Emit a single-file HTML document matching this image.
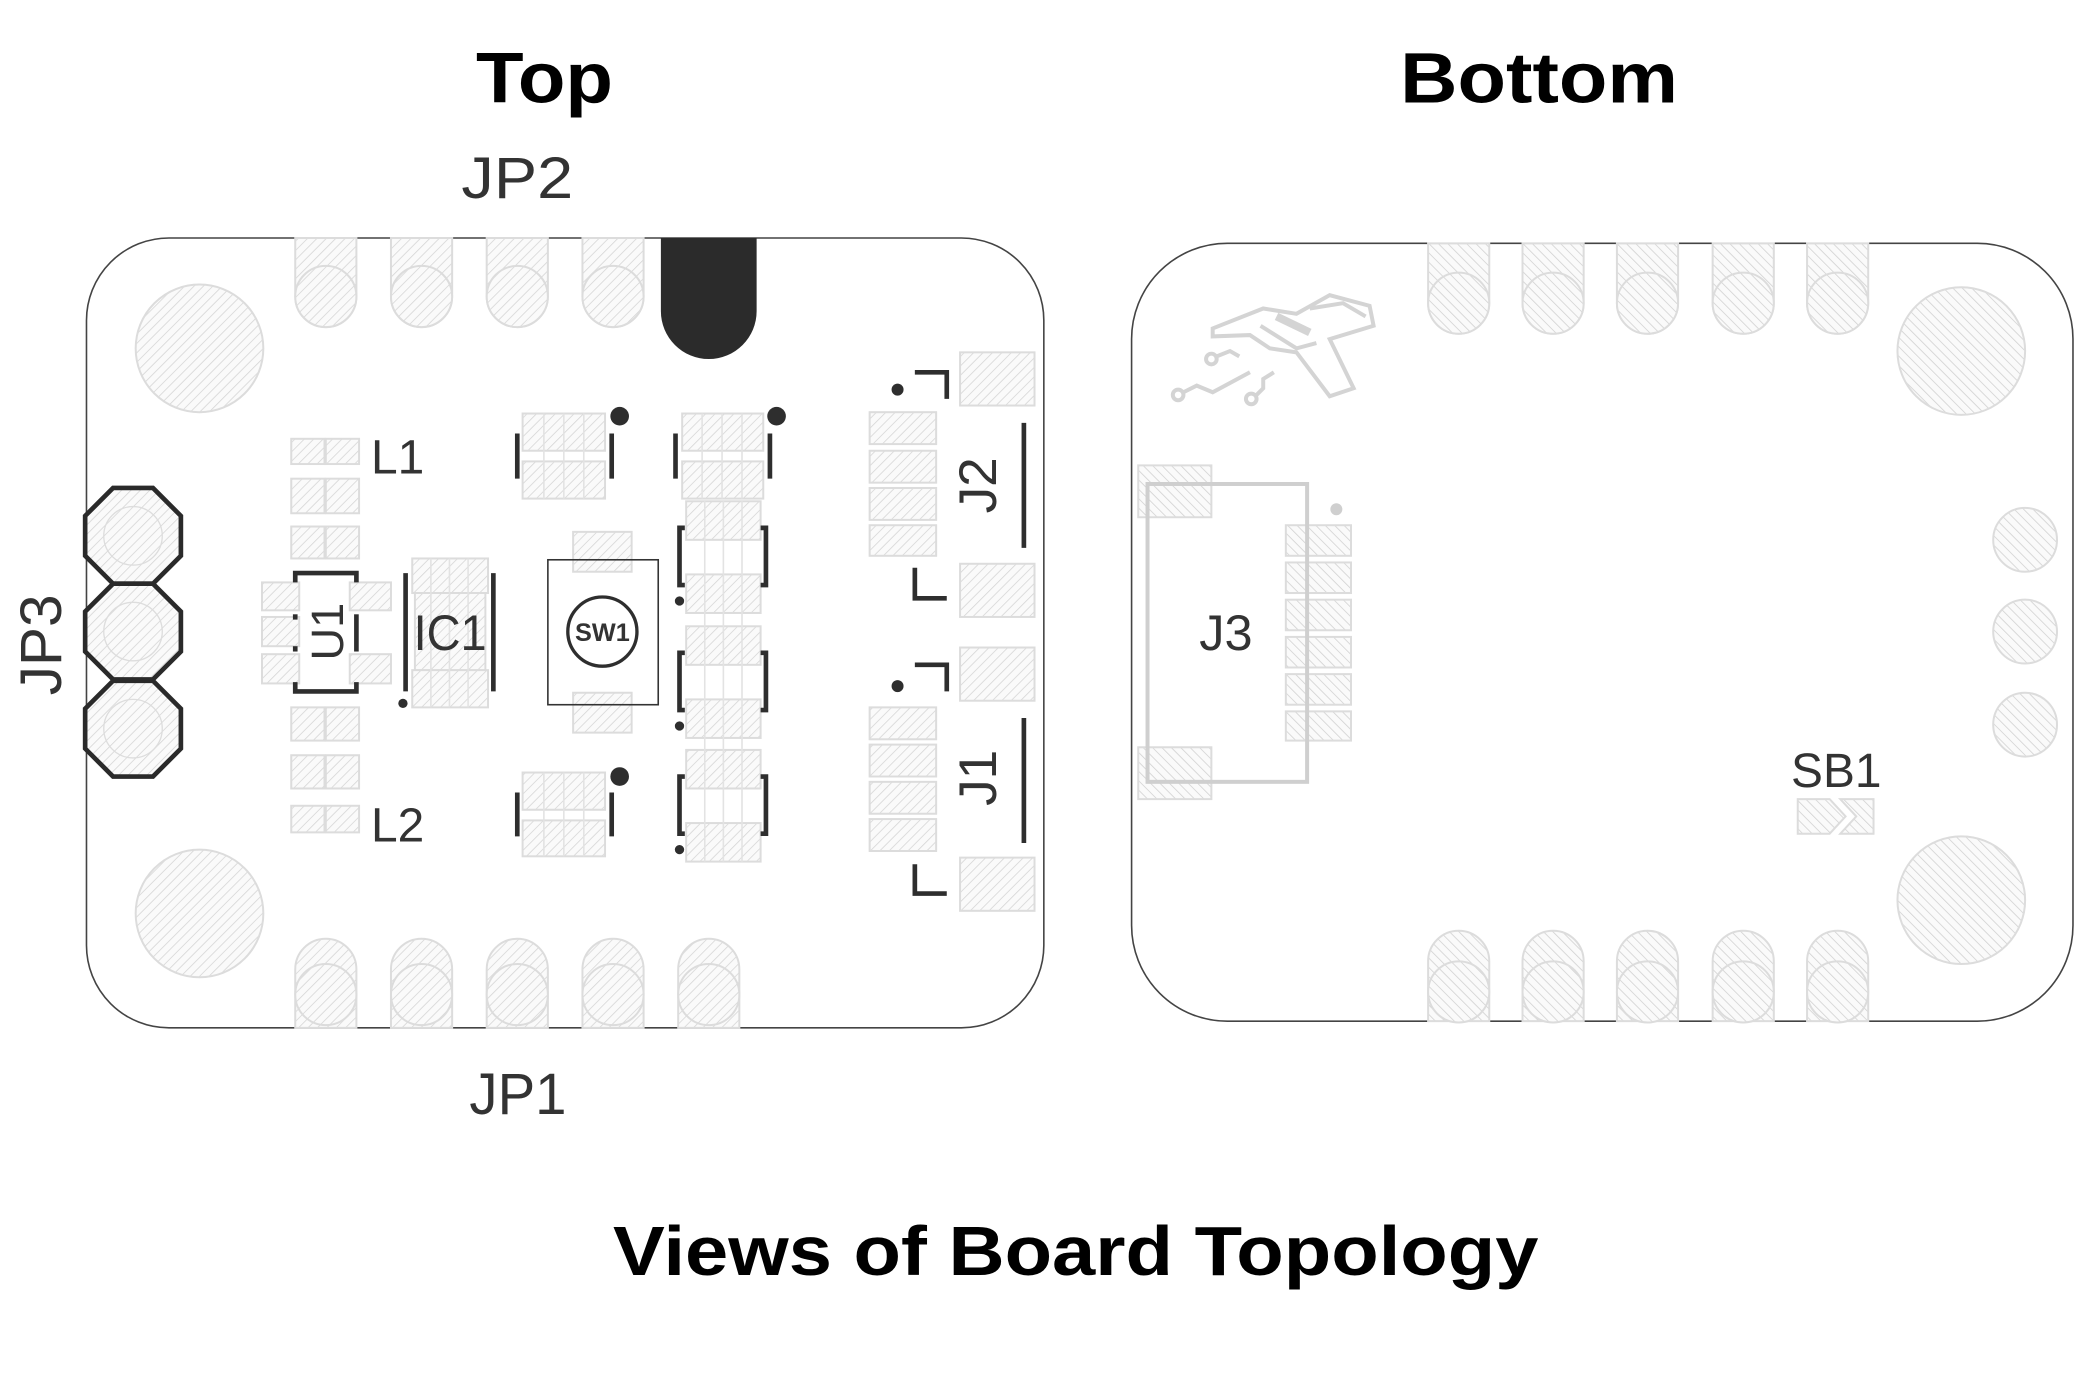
<!DOCTYPE html>
<html><head><meta charset="utf-8"><style>
html,body{margin:0;padding:0;background:#fff;}
svg{display:block;}
text{font-family:"Liberation Sans",sans-serif;}
</style></head><body>
<svg width="2085" height="1396" viewBox="0 0 1568 1049.9" xmlns="http://www.w3.org/2000/svg">
<defs>
<pattern id="h" patternUnits="userSpaceOnUse" width="5" height="5" patternTransform="rotate(45)"><rect width="5" height="5" fill="#fafafa"/><line x1="0" y1="0" x2="0" y2="5" stroke="#d6d6d6" stroke-width="1.2"/></pattern>
<pattern id="h2" patternUnits="userSpaceOnUse" width="5" height="5" patternTransform="rotate(-45)"><rect width="5" height="5" fill="#fafafa"/><line x1="0" y1="0" x2="0" y2="5" stroke="#d2d2d2" stroke-width="1.2"/></pattern>
</defs>
<rect width="1568" height="1050" fill="#fff"/>
<text x="358" y="77" font-size="54" font-weight="bold" textLength="103" lengthAdjust="spacingAndGlyphs">Top</text>
<text x="1053" y="77" font-size="54" font-weight="bold" textLength="209" lengthAdjust="spacingAndGlyphs">Bottom</text>
<text x="461" y="959" font-size="52" font-weight="bold" textLength="696" lengthAdjust="spacingAndGlyphs">Views of Board Topology</text>

<rect x="65" y="179" width="720" height="594" rx="62" fill="#fff" stroke="#444" stroke-width="1.2"/>
<g fill="url(#h)" stroke="#dcdcdc" stroke-width="1.5">
<circle cx="150" cy="262" r="48"/><circle cx="150" cy="687" r="48"/>
<path d="M222 179 h46 v44 a23 23 0 0 1 -46 0z"/><circle cx="245" cy="223" r="23"/>
<path d="M294 179 h46 v44 a23 23 0 0 1 -46 0z"/><circle cx="317" cy="223" r="23"/>
<path d="M366 179 h46 v44 a23 23 0 0 1 -46 0z"/><circle cx="389" cy="223" r="23"/>
<path d="M438 179 h46 v44 a23 23 0 0 1 -46 0z"/><circle cx="461" cy="223" r="23"/>
<path d="M222 773 h46 v-44 a23 23 0 0 0 -46 0z"/><circle cx="245" cy="748" r="23"/>
<path d="M294 773 h46 v-44 a23 23 0 0 0 -46 0z"/><circle cx="317" cy="748" r="23"/>
<path d="M366 773 h46 v-44 a23 23 0 0 0 -46 0z"/><circle cx="389" cy="748" r="23"/>
<path d="M438 773 h46 v-44 a23 23 0 0 0 -46 0z"/><circle cx="461" cy="748" r="23"/>
<path d="M510 773 h46 v-44 a23 23 0 0 0 -46 0z"/><circle cx="533" cy="748" r="23"/>
<rect x="219" y="330" width="25" height="19"/><rect x="245" y="330" width="25" height="19"/>
<rect x="219" y="360" width="25" height="26"/><rect x="245" y="360" width="25" height="26"/>
<rect x="219" y="396" width="25" height="24"/><rect x="245" y="396" width="25" height="24"/>
<rect x="219" y="532" width="25" height="25"/><rect x="245" y="532" width="25" height="25"/>
<rect x="219" y="568" width="25" height="25"/><rect x="245" y="568" width="25" height="25"/>
<rect x="219" y="606" width="25" height="20"/><rect x="245" y="606" width="25" height="20"/>
<rect x="197" y="438" width="28" height="21"/><rect x="197" y="464" width="28" height="22"/><rect x="197" y="492" width="28" height="22"/>
<rect x="263" y="438" width="31" height="21"/><rect x="263" y="492" width="31" height="22"/>
<rect x="310" y="420" width="57" height="26"/><rect x="312" y="446" width="53" height="58"/><rect x="310" y="504" width="57" height="28"/>
<rect x="431" y="400" width="44" height="30"/><rect x="431" y="521" width="44" height="30"/>
<rect x="393" y="311" width="62" height="28"/><rect x="393" y="347" width="62" height="28"/>
<rect x="513" y="311" width="61" height="28"/><rect x="513" y="347" width="61" height="28"/>
<rect x="393" y="581" width="62" height="28"/><rect x="393" y="617" width="62" height="27"/>
<rect x="516" y="377" width="56" height="29"/><rect x="516" y="432" width="56" height="29"/>
<rect x="516" y="471" width="56" height="29"/><rect x="516" y="526" width="56" height="29"/>
<rect x="516" y="564" width="56" height="29"/><rect x="516" y="619" width="56" height="29"/>
<rect x="722" y="265" width="56" height="40"/><rect x="722" y="424" width="56" height="40"/>
<rect x="722" y="487" width="56" height="40"/><rect x="722" y="645" width="56" height="40"/>
<rect x="654" y="310" width="50" height="24"/><rect x="654" y="339" width="50" height="24"/><rect x="654" y="367" width="50" height="24"/><rect x="654" y="395" width="50" height="23"/>
<rect x="654" y="532" width="50" height="24"/><rect x="654" y="560" width="50" height="24"/><rect x="654" y="588" width="50" height="24"/><rect x="654" y="616" width="50" height="24"/>
</g>
<g stroke="#e3e3e3" stroke-width="1.2">
<line x1="409" y1="311" x2="409" y2="375"/><line x1="424" y1="311" x2="424" y2="375"/><line x1="439" y1="311" x2="439" y2="375"/>
<line x1="528" y1="311" x2="528" y2="375"/><line x1="543" y1="311" x2="543" y2="375"/><line x1="558" y1="311" x2="558" y2="375"/>
<line x1="409" y1="581" x2="409" y2="644"/><line x1="424" y1="581" x2="424" y2="644"/><line x1="439" y1="581" x2="439" y2="644"/>
<line x1="530" y1="377" x2="530" y2="648"/><line x1="544" y1="377" x2="544" y2="648"/><line x1="558" y1="377" x2="558" y2="648"/>
<line x1="324" y1="420" x2="324" y2="532"/><line x1="338" y1="420" x2="338" y2="532"/><line x1="352" y1="420" x2="352" y2="532"/>
</g>
<path d="M497 179 h72 v55 a36 36 0 0 1 -72 0z" fill="#2b2b2b"/>
<g stroke="#2a2a2a" stroke-width="3.5" fill="url(#h)">
<polygon points="85,367 115,367 136,388 136,418 115,439 85,439 64,418 64,388"/>
<polygon points="85,439 115,439 136,460 136,490 115,511 85,511 64,490 64,460"/>
<polygon points="85,512 115,512 136,533 136,563 115,584 85,584 64,563 64,533"/>
</g>
<g stroke="#ddd" fill="url(#h)"><circle cx="100" cy="403" r="22"/><circle cx="100" cy="475" r="22"/><circle cx="100" cy="548" r="22"/></g>
<g stroke="#2e2e2e" stroke-width="3.5" fill="none">
<path d="M222 438 v-7 h46 v7"/><path d="M222 513 v7 h46 v-7"/>
<line x1="222" y1="462" x2="222" y2="466"/><line x1="222" y1="486" x2="222" y2="490"/><line x1="268" y1="462" x2="268" y2="490"/>
<line x1="305" y1="431" x2="305" y2="520"/><line x1="371" y1="431" x2="371" y2="520"/>
<line x1="389" y1="326" x2="389" y2="360"/><line x1="460" y1="326" x2="460" y2="360"/>
<line x1="508" y1="326" x2="508" y2="360"/><line x1="579" y1="326" x2="579" y2="360"/>
<line x1="389" y1="596" x2="389" y2="629"/><line x1="460" y1="596" x2="460" y2="629"/>
<path d="M515 397 h-4 v43 h4 M572 397 h4 v43 h-4"/>
<path d="M515 491 h-4 v43 h4 M572 491 h4 v43 h-4"/>
<path d="M515 584 h-4 v43 h4 M572 584 h4 v43 h-4"/>
<line x1="770" y1="318" x2="770" y2="412"/><line x1="770" y1="540" x2="770" y2="634"/>
<path d="M688 280 h24 v20"/><path d="M688 427 v23 h24"/>
<path d="M688 500 h24 v20"/><path d="M688 650 v22 h24"/>
</g>
<rect x="412" y="421" width="83" height="109" fill="none" stroke="#333" stroke-width="1.2"/>
<circle cx="453" cy="475" r="26" fill="none" stroke="#2e2e2e" stroke-width="2.5"/>
<g fill="#2e2e2e">
<circle cx="466" cy="313" r="7"/><circle cx="584" cy="313" r="7"/><circle cx="466" cy="584" r="7"/>
<circle cx="303" cy="529" r="3.5"/><circle cx="511" cy="452" r="3.5"/><circle cx="511" cy="546" r="3.5"/><circle cx="511" cy="639" r="3.5"/>
<circle cx="675" cy="293" r="4.5"/><circle cx="675" cy="516" r="4.5"/>
</g>
<g fill="#333">
<text x="347" y="149" font-size="44" textLength="84" lengthAdjust="spacingAndGlyphs">JP2</text>
<text x="353" y="838" font-size="44" textLength="73" lengthAdjust="spacingAndGlyphs">JP1</text>
<text x="279" y="356" font-size="36">L1</text>
<text x="279" y="633" font-size="36">L2</text>
<text x="311" y="489" font-size="38" textLength="55" lengthAdjust="spacingAndGlyphs">IC1</text>
<text x="453" y="482" font-size="19" font-weight="bold" text-anchor="middle">SW1</text>
<text transform="translate(46,485) rotate(-90)" font-size="44" text-anchor="middle">JP3</text>
<text transform="translate(749,365) rotate(-90)" font-size="40" text-anchor="middle">J2</text>
<text transform="translate(749,585) rotate(-90)" font-size="40" text-anchor="middle">J1</text>
<text transform="translate(258,475) rotate(-90)" font-size="34" text-anchor="middle">U1</text>
</g>

<rect x="851" y="183" width="708" height="585" rx="72" fill="#fff" stroke="#444" stroke-width="1.2"/>
<g fill="url(#h2)" stroke="#dcdcdc" stroke-width="1.5">
<circle cx="1475" cy="264" r="48"/><circle cx="1475" cy="677" r="48"/>
<circle cx="1523" cy="406" r="24"/><circle cx="1523" cy="475" r="24"/><circle cx="1523" cy="545" r="24"/>
<path d="M1074 183 h46 v45 a23 23 0 0 1 -46 0z"/><circle cx="1097" cy="228" r="23"/>
<path d="M1145 183 h46 v45 a23 23 0 0 1 -46 0z"/><circle cx="1168" cy="228" r="23"/>
<path d="M1216 183 h46 v45 a23 23 0 0 1 -46 0z"/><circle cx="1239" cy="228" r="23"/>
<path d="M1288 183 h46 v45 a23 23 0 0 1 -46 0z"/><circle cx="1311" cy="228" r="23"/>
<path d="M1359 183 h46 v45 a23 23 0 0 1 -46 0z"/><circle cx="1382" cy="228" r="23"/>
<path d="M1074 768 h46 v-45 a23 23 0 0 0 -46 0z"/><circle cx="1097" cy="746" r="23"/>
<path d="M1145 768 h46 v-45 a23 23 0 0 0 -46 0z"/><circle cx="1168" cy="746" r="23"/>
<path d="M1216 768 h46 v-45 a23 23 0 0 0 -46 0z"/><circle cx="1239" cy="746" r="23"/>
<path d="M1288 768 h46 v-45 a23 23 0 0 0 -46 0z"/><circle cx="1311" cy="746" r="23"/>
<path d="M1359 768 h46 v-45 a23 23 0 0 0 -46 0z"/><circle cx="1382" cy="746" r="23"/>
<rect x="856" y="350" width="55" height="39"/><rect x="856" y="562" width="55" height="39"/>
<rect x="967" y="395" width="49" height="23"/><rect x="967" y="423" width="49" height="23"/><rect x="967" y="451" width="49" height="23"/>
<rect x="967" y="479" width="49" height="23"/><rect x="967" y="507" width="49" height="23"/><rect x="967" y="535" width="49" height="22"/>
<path d="M1352 601 h24 l12 13 -12 13 h-24z"/><path d="M1384 601 h25 v26 h-25 l12 -13z"/>
</g>
<rect x="863" y="364" width="120" height="224" fill="none" stroke="#cfcfcf" stroke-width="3"/>
<circle cx="1005" cy="383" r="4.5" fill="#cfcfcf"/>
<g fill="none" stroke="#d4d4d4" stroke-width="3">
<path d="M912 247 L950 232 L975 236 L1000 222 L1030 230 L1033 245 L1000 255 L1018 292 L1000 298 L975 265 L955 262 L940 252 L912 253z"/>
<path d="M948 245 L975 262 L990 258"/><path d="M960 238 L985 250" stroke-width="6"/><path d="M985 232 L1010 228 L1027 238"/>
<circle cx="886" cy="297" r="4"/><path d="M890 295 L900 290 L912 295 L940 280"/>
<circle cx="911" cy="270" r="4"/><path d="M915 268 L925 264 L932 268"/>
<circle cx="941" cy="300" r="4"/><path d="M945 297 L950 292 L950 285 L958 280"/>
</g>
<g fill="#333">
<text x="922" y="489" font-size="38" text-anchor="middle">J3</text>
<text x="1381" y="592" font-size="36" text-anchor="middle">SB1</text>
</g>
</svg>
</body></html>
